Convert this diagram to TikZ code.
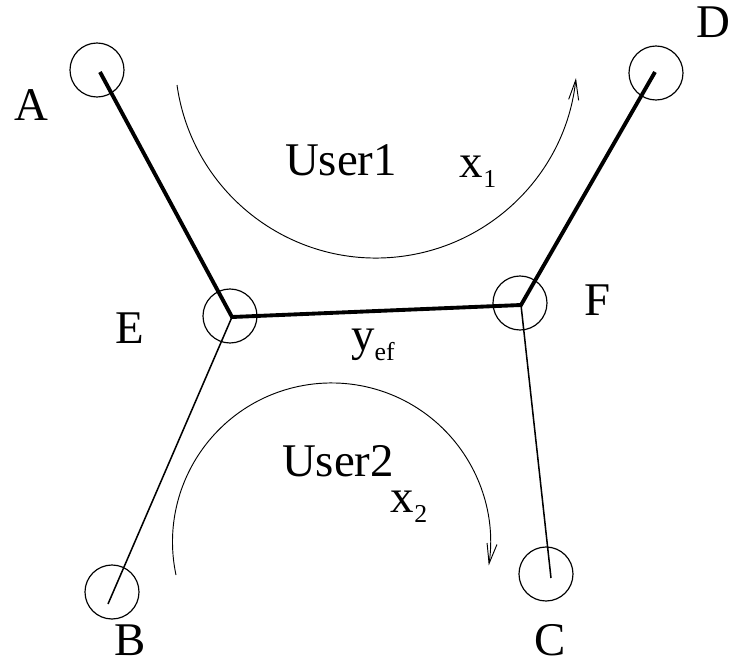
\documentclass[tikz,border=0pt]{standalone}
\usepackage{fontspec}
\setmainfont{Liberation Serif}
\usetikzlibrary{arrows.meta,calc}

\tikzset{
  site/.style={circle,draw,line width=1pt,minimum size=1.62cm,inner sep=0pt},
  trunk/.style={line width=3.3pt,line join=miter},
  branch/.style={line width=1.3pt},
  flow/.style={line width=0.8pt,-{Straight Barb[length=0.6cm,width=0.3cm]}},
  tag/.style={font=\fontsize{40}{46}\selectfont,inner sep=0pt}
}
\newcommand{\lowsub}[2]{#1\raisebox{-0.45ex}{\fontsize{22}{26}\selectfont #2}}

\begin{document}
\begin{tikzpicture}[x=0.03cm,y=-0.03cm]
\useasboundingbox (0,0) rectangle (730,666);

% Define the end points of the links.
\coordinate (pA) at (100,72);
\coordinate (pD) at (655,72);
\coordinate (pE) at (232,317);
\coordinate (pF) at (521,305);
\coordinate (pB) at (108,604);
\coordinate (pC) at (551,578);

\node[site] (cA) at (97,70) {};
\node[site] (cD) at (656,73) {};
\node[site] (cE) at (230,316) {};
\node[site] (cF) at (520,303) {};
\node[site] (cB) at (112,592) {};
\node[site] (cC) at (546,574) {};

\draw[trunk] (pA) -- (pE) -- (pF) -- (pD);
\draw[branch] (pE) -- (pB);
\draw[branch] (pF) -- (pC);

% The two flows.
\coordinate (f1) at (177,85);
\coordinate (f2) at (176,575);
\draw[flow] (f1) arc[start angle=172,end angle=6,radius=201];
\draw[flow] (f2) arc[start angle=168,end angle=368.5,radius=159];

\node[tag] (lA) at (31,105) {A};
\node[tag] (lD) at (713,22) {D};
\node[tag] (lE) at (130,328) {E};
\node[tag] (lF) at (598,300) {F};
\node[tag] (lB) at (130,640) {B};
\node[tag] (lC) at (550,640) {C};

\node[tag] (u1) at (341,160) {User1};
\node[tag] (u2) at (338,461) {User2};
\node[tag] (x1) at (478,172) {\lowsub{x}{1}};
\node[tag] (x2) at (409,507) {\lowsub{x}{2}};
\node[tag] (yef) at (373,345) {\lowsub{y}{ef}};

\end{tikzpicture}
\end{document}
